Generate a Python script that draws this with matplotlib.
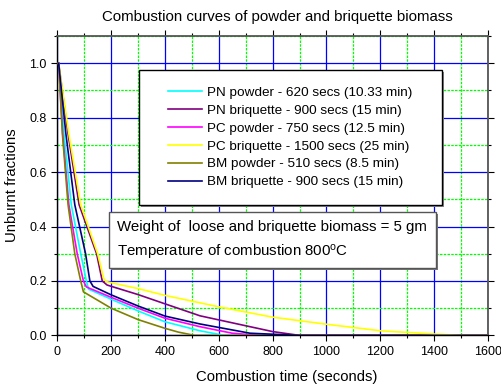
import matplotlib
matplotlib.use("Agg")
import matplotlib.pyplot as plt
from matplotlib.patches import Rectangle
from matplotlib.ticker import MultipleLocator

plt.rcParams['font.family'] = ['Liberation Sans', 'DejaVu Sans']
plt.rcParams['mathtext.fontset'] = 'custom'
plt.rcParams['mathtext.rm'] = 'Liberation Sans'
plt.rcParams['mathtext.it'] = 'Liberation Sans:italic'

title = "Combustion curves of powder and briquette biomass"
xlabel = "Combustion time (seconds)"
ylabel = "Unburnt fractions"

labels = ["PN powder - 620 secs (10.33 min)",
          "PN briquette - 900 secs (15 min)",
          "PC powder - 750 secs (12.5 min)",
          "PC briquette - 1500 secs (25 min)",
          "BM powder - 510 secs (8.5 min)",
          "BM briquette - 900 secs (15 min)"]
colors = ["#00FFFF", "#800080", "#FF00FF", "#FFFF00", "#808000", "#000080"]

t_pn_powder = [5, 25, 52, 87, 108, 116, 200, 300, 400, 530, 620, 1600]
f_pn_powder = [1.0, 0.74, 0.48, 0.30, 0.20, 0.17, 0.133, 0.09, 0.05, 0.017, 0.0, 0.0]

t_pn_briq = [5, 40, 81, 146, 167, 185, 300, 400, 530, 716, 800, 900, 1600]
f_pn_briq = [1.0, 0.74, 0.48, 0.30, 0.20, 0.185, 0.15, 0.116, 0.072, 0.032, 0.014, 0.0, 0.0]

t_pc_powder = [5, 20, 43, 74, 97, 108, 200, 300, 400, 530, 650, 750, 1600]
f_pc_powder = [1.0, 0.74, 0.48, 0.30, 0.20, 0.178, 0.14, 0.10, 0.063, 0.032, 0.008, 0.0, 0.0]

t_pc_briq = [5, 43, 87, 150, 172, 180, 300, 400, 600, 800, 1000, 1200, 1400, 1500, 1600]
f_pc_briq = [1.0, 0.74, 0.48, 0.30, 0.21, 0.198, 0.172, 0.147, 0.105, 0.067, 0.041, 0.017, 0.005, 0.0, 0.0]

t_bm_powder = [5, 19, 40, 65, 87, 97, 200, 300, 400, 450, 510, 1600]
f_bm_powder = [1.0, 0.74, 0.48, 0.30, 0.20, 0.16, 0.10, 0.058, 0.026, 0.012, 0.0, 0.0]

t_bm_briq = [5, 32, 65, 105, 121, 133, 200, 300, 400, 530, 716, 900, 1600]
f_bm_briq = [1.0, 0.74, 0.48, 0.30, 0.20, 0.18, 0.149, 0.108, 0.071, 0.042, 0.008, 0.0, 0.0]

series_t = [t_pn_powder, t_pn_briq, t_pc_powder, t_pc_briq, t_bm_powder, t_bm_briq]
series_f = [f_pn_powder, f_pn_briq, f_pc_powder, f_pc_briq, f_bm_powder, f_bm_briq]

note1 = "Weight of  loose and briquette biomass = 5 gm"
note2 = "Temperature of combustion 800$^{\\mathrm{o}}$C"

W, H = 502, 384
fig = plt.figure(figsize=(W / 100, H / 100), dpi=100)
L, R, T, B = 57.3, 488, 36, 335.4
ax = fig.add_axes([L / W, 1 - B / H, (R - L) / W, (B - T) / H])

ax.set_xlim(0, 1600)
ax.set_ylim(0, 1.1)
ax.xaxis.set_major_locator(MultipleLocator(200))
ax.xaxis.set_minor_locator(MultipleLocator(100))
ax.yaxis.set_major_locator(MultipleLocator(0.2))
ax.yaxis.set_minor_locator(MultipleLocator(0.1))
ax.yaxis.set_major_formatter(matplotlib.ticker.FormatStrFormatter('%.1f'))

ax.grid(which='minor', color='#00FF00', linestyle=(0, (2, 1)), linewidth=0.9, zorder=0)
ax.grid(which='major', color='#0000FF', linestyle='-', linewidth=0.9, zorder=0)
ax.set_axisbelow(True)

for t, f, c, lab in zip(series_t, series_f, colors, labels):
    ax.plot(t, f, color=c, linewidth=1.2, label=lab, zorder=3)

ax.tick_params(axis='both', which='major', labelsize=9, length=4, width=0.8, direction='out',
               right=True, top=True)
ax.tick_params(axis='both', which='minor', length=2, width=0.8, direction='out', right=True, top=True)
for s in ['left', 'bottom']:
    ax.spines[s].set_color('black')
    ax.spines[s].set_linewidth(1.0)
for s in ['right', 'top']:
    ax.spines[s].set_color('#555555')
    ax.spines[s].set_linewidth(1.3)

fig.text(277 / W, 1 - 17 / H, title, ha='center', va='center', fontsize=10.8)
fig.text(287 / W, 1 - 377 / H, xlabel, ha='center', va='center', fontsize=10.7)
fig.text(12 / W, 1 - 185 / H, ylabel, ha='center', va='center', rotation=90, fontsize=10.7)

def px_to_ax(x, y):
    return ((x - L) / (R - L), (B - y) / (B - T))

# legend box
lx0, ly0 = px_to_ax(139, 205)
lx1, ly1 = px_to_ax(442, 70)
sx, sy = 2 / (R - L), 2 / (B - T)
ax.add_patch(Rectangle((lx0 + sx, ly0 - sy), lx1 - lx0, ly1 - ly0, transform=ax.transAxes,
                       facecolor='#888888', edgecolor='none', zorder=4))
ax.add_patch(Rectangle((lx0, ly0), lx1 - lx0, ly1 - ly0, transform=ax.transAxes,
                       facecolor='white', edgecolor='black', linewidth=1.0, zorder=5))
cx, cy = px_to_ax(290.5, 137.5)
leg = ax.legend(loc='center', bbox_to_anchor=(cx, cy), frameon=False, fontsize=9.7,
                handlelength=2.5, handletextpad=0.37, labelspacing=0.4, borderpad=0)
leg.set_zorder(6)

# note box
nx0, ny0 = px_to_ax(109, 268)
nx1, ny1 = px_to_ax(436, 212)
ax.add_patch(Rectangle((nx0 + sx, ny0 - sy), nx1 - nx0, ny1 - ny0, transform=ax.transAxes,
                       facecolor='#777777', edgecolor='none', zorder=4))
ax.add_patch(Rectangle((nx0, ny0), nx1 - nx0, ny1 - ny0, transform=ax.transAxes,
                       facecolor='white', edgecolor='#555555', linewidth=1.0, zorder=5))
tx, ty1 = px_to_ax(117, 227)
_, ty2 = px_to_ax(117, 253)
ax.text(tx, ty1, note1, transform=ax.transAxes, ha='left', va='center', fontsize=10.8, zorder=6)
ax.text(tx, ty2, note2, transform=ax.transAxes, ha='left', va='center', fontsize=10.8, zorder=6)

fig.savefig("out.png", dpi=100)
